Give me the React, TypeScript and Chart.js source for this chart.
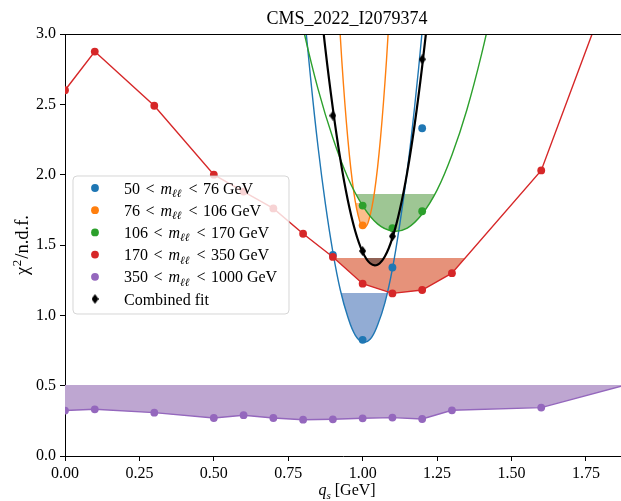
import { useEffect, useRef } from 'react';
import { Chart, registerables } from 'chart.js';

Chart.register(...registerables);

const FONT = '"Liberation Serif", "DejaVu Serif", serif';
const TITLE = 'CMS_2022_I2079374';
const X_TICKS = [0, 0.25, 0.5, 0.75, 1.0, 1.25, 1.5, 1.75];
const Y_TICKS = [0, 0.5, 1.0, 1.5, 2.0, 2.5, 3.0];
const X_MIN = 0;
const X_MAX = 1.868;
const Y_MIN = 0;
const Y_MAX = 3;

const BIN_LOW = ['50', '76', '106', '170', '350'];
const BIN_HIGH = ['76', '106', '170', '350', '1000'];
const COMBINED_LABEL = 'Combined fit';

// scan points (q_s, chi2/ndf)
const SCAN_X_50_76 = [0.9, 1.0, 1.1, 1.2];
const SCAN_Y_50_76 = [1.43, 0.826, 1.34, 2.33];
const SCAN_X_76_106 = [1.0];
const SCAN_Y_76_106 = [1.64];
const SCAN_X_106_170 = [1.0, 1.1, 1.2];
const SCAN_Y_106_170 = [1.78, 1.62, 1.74];
const SCAN_X_170_350 = [0, 0.1, 0.3, 0.5, 0.6, 0.7, 0.8, 0.9, 1.0, 1.1, 1.2, 1.3, 1.6, 2.0];
const SCAN_Y_170_350 = [2.6, 2.875, 2.49, 2.0, 1.88, 1.76, 1.58, 1.415, 1.225, 1.156, 1.18, 1.3, 2.03, 4.3];
const SCAN_X_350_1000 = [0, 0.1, 0.3, 0.5, 0.6, 0.7, 0.8, 0.9, 1.0, 1.1, 1.2, 1.3, 1.6, 2.0];
const SCAN_Y_350_1000 = [0.323, 0.332, 0.308, 0.27, 0.29, 0.27, 0.258, 0.261, 0.268, 0.273, 0.263, 0.325, 0.344, 0.57];
const SCAN_X_COMB = [0.9, 1.0, 1.1, 1.2];
const SCAN_Y_COMB = [2.42, 1.457, 1.562, 2.82];

// fitted curves
const FIT_X_50_76 = [0.775, 0.8, 0.825, 0.85, 0.875, 0.9, 0.925, 0.95, 0.975, 1.0, 1.025, 1.05, 1.075, 1.1, 1.125, 1.15, 1.175, 1.2, 1.225];
const FIT_Y_50_76 = [3.88, 3.25, 2.69, 2.2, 1.79, 1.45, 1.18, 0.99, 0.86, 0.81, 0.83, 0.93, 1.09, 1.33, 1.65, 2.03, 2.49, 3.02, 3.62];
const FIT_X_76_106 = [0.91, 0.93, 0.95, 0.97, 0.99, 1.005, 1.02, 1.04, 1.06, 1.08, 1.1];
const FIT_Y_76_106 = [3.52, 2.81, 2.26, 1.88, 1.67, 1.625, 1.67, 1.88, 2.26, 2.81, 3.52];
const FIT_X_106_170 = [0.75, 0.8, 0.85, 0.9, 0.95, 1.0, 1.05, 1.1, 1.15, 1.2, 1.25, 1.3, 1.35, 1.4, 1.45];
const FIT_Y_106_170 = [3.54, 3.04, 2.61, 2.26, 1.98, 1.78, 1.65, 1.6, 1.62, 1.72, 1.89, 2.14, 2.46, 2.86, 3.33];
const FIT_X_COMB = [0.85, 0.875, 0.9, 0.925, 0.95, 0.975, 1.0, 1.025, 1.05, 1.075, 1.1, 1.125, 1.15, 1.175, 1.2, 1.225];
const FIT_Y_COMB = [3.39, 2.89, 2.47, 2.11, 1.82, 1.6, 1.45, 1.37, 1.36, 1.42, 1.55, 1.75, 2.02, 2.36, 2.77, 3.24];

// acceptance band levels
const BAND_50_76 = 1.16;
const BAND_76_106 = 1.8;
const BAND_106_170 = 1.86;
const BAND_170_350 = 1.405;
const BAND_350_1000 = 0.505;
const BAND_COMB = 1.41;

const C_BLUE = '#1f77b4';
const C_ORANGE = '#ff7f0e';
const C_GREEN = '#2ca02c';
const C_RED = '#d62728';
const C_PURPLE = '#9467bd';
const C_BLACK = '#000000';
const F_BLUE = 'rgb(146,172,212)';
const F_ORANGE = 'rgb(252,190,140)';
const F_GREEN = 'rgb(158,198,148)';
const F_RED = 'rgb(230,146,122)';
const F_PURPLE = 'rgb(190,166,209)';
const F_COMB = 'rgba(40,40,40,0.45)';

const pts = (xs: number[], ys: number[]) => xs.map((x, i) => ({ x, y: ys[i] }));

type Part = { t: string; it?: boolean; sub?: boolean; sup?: boolean; gap?: number };

function drawRich(ctx: CanvasRenderingContext2D, parts: Part[], x: number, y: number, size: number, align: 'left' | 'center' = 'left') {
  const fontOf = (p: Part) => {
    const s = p.sub || p.sup ? size * 0.7 : size;
    return `${p.it ? 'italic ' : ''}${s}px ${FONT}`;
  };
  let total = 0;
  for (const p of parts) {
    ctx.font = fontOf(p);
    total += ctx.measureText(p.t).width + (p.gap || 0);
  }
  let cx = align === 'center' ? x - total / 2 : x;
  ctx.textAlign = 'left';
  for (const p of parts) {
    ctx.font = fontOf(p);
    const dy = p.sub ? size * 0.22 : p.sup ? -size * 0.4 : 0;
    ctx.fillText(p.t, cx, y + dy);
    cx += ctx.measureText(p.t).width + (p.gap || 0);
  }
  return total;
}

function makeDiamond() {
  const c = document.createElement('canvas');
  c.width = 7;
  c.height = 10;
  const g = c.getContext('2d')!;
  g.fillStyle = '#000';
  g.beginPath();
  g.moveTo(3.5, 0);
  g.lineTo(7, 5);
  g.lineTo(3.5, 10);
  g.lineTo(0, 5);
  g.closePath();
  g.fill();
  return c;
}

export default function App() {
  const ref = useRef<HTMLCanvasElement | null>(null);

  useEffect(() => {
    if (!ref.current) return;
    const diamond = makeDiamond();

    const fitDs = (xs: number[], ys: number[], color: string, order: number, width = 1.4) => ({
      data: pts(xs, ys),
      borderColor: color,
      backgroundColor: color,
      borderWidth: width,
      pointRadius: 0,
      tension: 0.4,
      capBezierPoints: false,
      showLine: true,
      fill: false,
      order,
    });
    const ptDs = (xs: number[], ys: number[], color: string, order: number) => ({
      data: pts(xs, ys),
      borderColor: color,
      backgroundColor: color,
      showLine: false,
      pointRadius: 3.9,
      pointBorderWidth: 0,
      pointBackgroundColor: color,
      fill: false,
      order,
    });
    const scanLineDs = (xs: number[], ys: number[], color: string, order: number) => ({
      data: pts(xs, ys),
      borderColor: color,
      backgroundColor: color,
      borderWidth: 1.4,
      tension: 0,
      showLine: true,
      pointRadius: 3.9,
      pointBorderWidth: 0,
      pointBackgroundColor: color,
      fill: false,
      order,
    });

    const datasets: any[] = [
      fitDs(FIT_X_50_76, FIT_Y_50_76, C_BLUE, 12),
      ptDs(SCAN_X_50_76, SCAN_Y_50_76, C_BLUE, 11),
      fitDs(FIT_X_76_106, FIT_Y_76_106, C_ORANGE, 10),
      ptDs(SCAN_X_76_106, SCAN_Y_76_106, C_ORANGE, 9),
      fitDs(FIT_X_106_170, FIT_Y_106_170, C_GREEN, 8),
      ptDs(SCAN_X_106_170, SCAN_Y_106_170, C_GREEN, 7),
      scanLineDs(SCAN_X_170_350, SCAN_Y_170_350, C_RED, 6),
      scanLineDs(SCAN_X_350_1000, SCAN_Y_350_1000, C_PURPLE, 5),
      fitDs(FIT_X_COMB, FIT_Y_COMB, C_BLACK, 4, 2.2),
      {
        data: pts(SCAN_X_COMB, SCAN_Y_COMB),
        showLine: false,
        pointStyle: diamond,
        pointRadius: 5,
        fill: false,
        order: 3,
      },
    ];

    // [dataset index, band level, fill colour] in drawing order
    const fillSpecs: [number, number, string][] = [
      [0, BAND_50_76, F_BLUE],
      [2, BAND_76_106, F_ORANGE],
      [4, BAND_106_170, F_GREEN],
      [6, BAND_170_350, F_RED],
      [7, BAND_350_1000, F_PURPLE],
      [8, BAND_COMB, F_COMB],
    ];

    const legendColors = [C_BLUE, C_ORANGE, C_GREEN, C_RED, C_PURPLE];

    const decor = {
      id: 'decor',
      beforeDatasetsDraw(chart: any) {
        const ctx: CanvasRenderingContext2D = chart.ctx;
        const a = chart.chartArea;
        const ys = chart.scales.y;
        for (const [idx, band, color] of fillSpecs) {
          const meta = chart.getDatasetMeta(idx);
          const line = meta.dataset;
          const p = meta.data;
          if (!line || !p.length) continue;
          line.updateControlPoints(a, 'x');
          const yb = Math.round(ys.getPixelForValue(band));
          ctx.save();
          ctx.beginPath();
          ctx.rect(a.left, yb, a.right - a.left, a.bottom - yb);
          ctx.clip();
          ctx.beginPath();
          line.path(ctx);
          ctx.lineTo(p[p.length - 1].x, yb);
          ctx.lineTo(p[0].x, yb);
          ctx.closePath();
          ctx.fillStyle = color;
          ctx.fill();
          ctx.restore();
        }
      },
      afterDatasetsDraw(chart: any) {
        const ctx: CanvasRenderingContext2D = chart.ctx;
        const a = chart.chartArea;
        const bx = a.left + 8;
        const by = a.top + 142;
        const bw = 216;
        const bh = 138;
        const r = 4;
        ctx.save();
        ctx.beginPath();
        ctx.moveTo(bx + r, by);
        ctx.lineTo(bx + bw - r, by);
        ctx.quadraticCurveTo(bx + bw, by, bx + bw, by + r);
        ctx.lineTo(bx + bw, by + bh - r);
        ctx.quadraticCurveTo(bx + bw, by + bh, bx + bw - r, by + bh);
        ctx.lineTo(bx + r, by + bh);
        ctx.quadraticCurveTo(bx, by + bh, bx, by + bh - r);
        ctx.lineTo(bx, by + r);
        ctx.quadraticCurveTo(bx, by, bx + r, by);
        ctx.closePath();
        ctx.fillStyle = 'rgba(255,255,255,0.8)';
        ctx.fill();
        ctx.strokeStyle = 'rgba(204,204,204,0.8)';
        ctx.lineWidth = 1;
        ctx.stroke();

        const size = 16;
        ctx.fillStyle = '#000';
        ctx.textBaseline = 'alphabetic';
        for (let i = 0; i < 6; i++) {
          const cy = by + 12 + i * 22.2;
          if (i < 5) {
            ctx.fillStyle = legendColors[i];
            ctx.beginPath();
            ctx.arc(bx + 22, cy, 3.9, 0, Math.PI * 2);
            ctx.fill();
            ctx.fillStyle = '#000';
            drawRich(ctx, [
              { t: `${BIN_LOW[i]} `, gap: 1.5 },
              { t: '<', gap: 1.5 },
              { t: ' ', gap: 0.5 },
              { t: 'm', it: true },
              { t: 'ℓℓ', it: true, sub: true, gap: 1.5 },
              { t: ' ', gap: 1.5 },
              { t: '<', gap: 1.5 },
              { t: ` ${BIN_HIGH[i]} GeV` },
            ], bx + 51, cy + 5.5, size);
          } else {
            ctx.drawImage(diamond, bx + 22 - diamond.width / 2, cy - diamond.height / 2);
            ctx.font = `${size}px ${FONT}`;
            ctx.textAlign = 'left';
            ctx.fillText(COMBINED_LABEL, bx + 51, cy + 5.5);
          }
        }
        ctx.restore();
      },
      afterDraw(chart: any) {
        const ctx: CanvasRenderingContext2D = chart.ctx;
        const a = chart.chartArea;
        ctx.save();
        // top spine
        ctx.strokeStyle = '#000';
        ctx.lineWidth = 1;
        ctx.beginPath();
        ctx.moveTo(a.left, Math.round(a.top) + 0.5);
        ctx.lineTo(a.right, Math.round(a.top) + 0.5);
        ctx.stroke();
        ctx.fillStyle = '#000';
        ctx.textBaseline = 'alphabetic';
        // title
        ctx.font = `18px ${FONT}`;
        ctx.textAlign = 'center';
        ctx.fillText(TITLE, (a.left + a.right) / 2 + 4, 24);
        // x label
        drawRich(ctx, [
          { t: 'q', it: true },
          { t: 's', it: true, sub: true },
          { t: ' [GeV]' },
        ], (a.left + a.right) / 2 + 4, 495, 16, 'center');
        // y label
        ctx.translate(28, (a.top + a.bottom) / 2);
        ctx.rotate(-Math.PI / 2);
        drawRich(ctx, [
          { t: 'χ', gap: 0.5 },
          { t: '2', sup: true, gap: 1 },
          { t: '/n.d.f.' },
        ], 0, 0, 18.5, 'center');
        ctx.restore();
      },
    };

    const chart = new Chart(ref.current, {
      type: 'line',
      data: { datasets },
      options: {
        responsive: false,
        animation: false,
        events: [],
        layout: { autoPadding: false, padding: { top: 34, left: 0, right: 0, bottom: 0 } },
        plugins: {
          legend: { display: false },
          tooltip: { enabled: false },
          title: { display: false },
        },
        scales: {
          x: {
            type: 'linear',
            min: X_MIN,
            max: X_MAX,
            afterBuildTicks: (s: any) => {
              s.ticks = X_TICKS.map((v) => ({ value: v }));
            },
            afterFit: (s: any) => {
              s.height = 45;
              s.paddingRight = 0;
              s.paddingLeft = 0;
            },
            ticks: {
              callback: (v: any) => Number(v).toFixed(2),
              font: { family: FONT, size: 16 },
              color: '#000',
              padding: 3,
              maxRotation: 0,
              autoSkip: false,
            },
            grid: { display: true, drawOnChartArea: false, drawTicks: true, tickLength: 5, color: '#000' },
            border: { display: true, color: '#000', width: 1 },
          },
          y: {
            type: 'linear',
            min: Y_MIN,
            max: Y_MAX,
            afterBuildTicks: (s: any) => {
              s.ticks = Y_TICKS.map((v) => ({ value: v }));
            },
            afterFit: (s: any) => {
              s.width = 65;
              s.paddingTop = 0;
              s.paddingBottom = 0;
            },
            ticks: {
              callback: (v: any) => Number(v).toFixed(1),
              font: { family: FONT, size: 16 },
              color: '#000',
              padding: 4,
              autoSkip: false,
            },
            grid: { display: true, drawOnChartArea: false, drawTicks: true, tickLength: 5, color: '#000' },
            border: { display: true, color: '#000', width: 1 },
          },
        },
      } as any,
      plugins: [decor],
    });
    return () => chart.destroy();
  }, []);

  return (
    <div style={{ position: 'fixed', left: 0, top: 0, width: 621, height: 501, background: '#fff' }}>
      <canvas ref={ref} width={621} height={501} style={{ width: 621, height: 501, display: 'block' }} />
    </div>
  );
}
